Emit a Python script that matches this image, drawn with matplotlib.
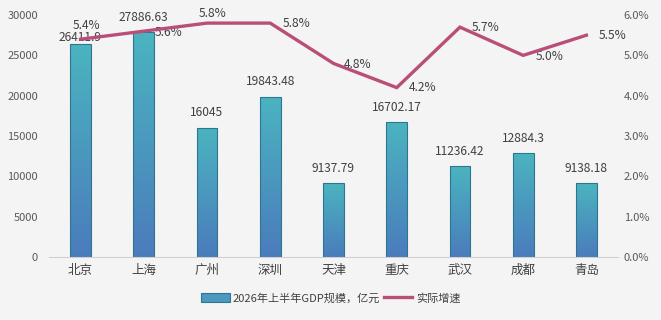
import numpy as np
import matplotlib
matplotlib.use("Agg")
import matplotlib.pyplot as plt
from matplotlib.colors import LinearSegmentedColormap
from matplotlib.patches import Patch
from matplotlib.lines import Line2D

plt.rcParams['font.family'] = ['Noto Sans CJK SC', 'DejaVu Sans']

cities = ["北京", "上海", "广州", "深圳", "天津", "重庆", "武汉", "成都", "青岛"]
gdp = [26411.9, 27886.63, 16045, 19843.48, 9137.79, 16702.17, 11236.42, 12884.3, 9138.18]
gdp_labels = ["26411.9", "27886.63", "16045", "19843.48", "9137.79", "16702.17", "11236.42", "12884.3", "9138.18"]
growth = [5.4, 5.6, 5.8, 5.8, 4.8, 4.2, 5.7, 5.0, 5.5]
bar_name = "2026年上半年GDP规模，亿元"
line_name = "实际增速"

bg = "#f4f4f4"
fig = plt.figure(figsize=(6.61, 3.2), dpi=100, facecolor=bg)
ax = fig.add_axes([0.074, 0.197, 0.861, 0.756])
ax.set_facecolor(bg)
x = np.arange(len(cities))

cmap = LinearSegmentedColormap.from_list("g", ["#4a7cbc", "#4bb4c0"])
bars = ax.bar(x, gdp, width=0.33, color="none", edgecolor="#2f7590", linewidth=0.8, zorder=3)
grad = np.linspace(0, 1, 256).reshape(-1, 1)
for b in bars:
    x0, y0 = b.get_x(), b.get_y()
    w, h = b.get_width(), b.get_height()
    im = ax.imshow(grad, cmap=cmap, aspect="auto", origin="lower",
                   extent=[x0, x0 + w, y0, y0 + h], zorder=2)
    im.set_clip_path(b)

ax.set_xlim(-0.5, len(cities) - 0.5)
ax.set_ylim(0, 30000)
ax.set_yticks(np.arange(0, 30001, 5000))
ax.set_xticks(x)
ax.set_xticklabels(cities, fontsize=9, color="#404040")
ax.tick_params(axis='y', labelsize=8, colors="#595959", length=0, pad=8)
ax.tick_params(axis='x', length=0, pad=5)
for s in ["top", "right", "left"]:
    ax.spines[s].set_visible(False)
ax.spines["bottom"].set_color("#d0d0d0")

bar_dy = [6, 15, 15, 15, 15, 15, 15, 15, 15]
for xi, v, lab, dy in zip(x, gdp, gdp_labels, bar_dy):
    ax.annotate(lab, (xi, v), xytext=(0, dy), textcoords="offset pixels",
                ha="center", va="center", fontsize=8.6, color="#404040", zorder=5)

ax2 = ax.twinx()
ax2.set_ylim(0, 6.0)
ax2.set_yticks(np.arange(0, 6.01, 1.0))
ax2.set_yticklabels([f"{t:.1f}%" for t in np.arange(0, 6.01, 1.0)])
ax2.tick_params(axis='y', labelsize=8, colors="#595959", length=0, pad=4)
for s in ["top", "right", "left", "bottom"]:
    ax2.spines[s].set_visible(False)
ax2.plot(x, growth, color="#b94f78", linewidth=2.4, zorder=4, solid_joinstyle="miter")

offsets = [(6, 14), (25, -1), (6, 10), (26, 0), (24, -1), (26, 0), (26, 0), (26, -1), (26, 0)]
for xi, g, (dx, dy) in zip(x, growth, offsets):
    ax2.annotate(f"{g:.1f}%", (xi, g), xytext=(dx, dy), textcoords="offset pixels",
                 ha="center", va="center", fontsize=8.6, color="#404040")

handles = [Patch(facecolor="#4b98c0", edgecolor="#2f7590", linewidth=0.8),
           Line2D([0], [0], color="#b94f78", linewidth=2.4)]
fig.legend(handles, [bar_name, line_name], loc="center", bbox_to_anchor=(0.5, 0.068),
           ncol=2, frameon=False, fontsize=8, handlelength=2.6, handleheight=0.8,
           columnspacing=0.3, handletextpad=0.3, labelcolor="#404040")

fig.savefig("out.png", dpi=100, facecolor=bg)
